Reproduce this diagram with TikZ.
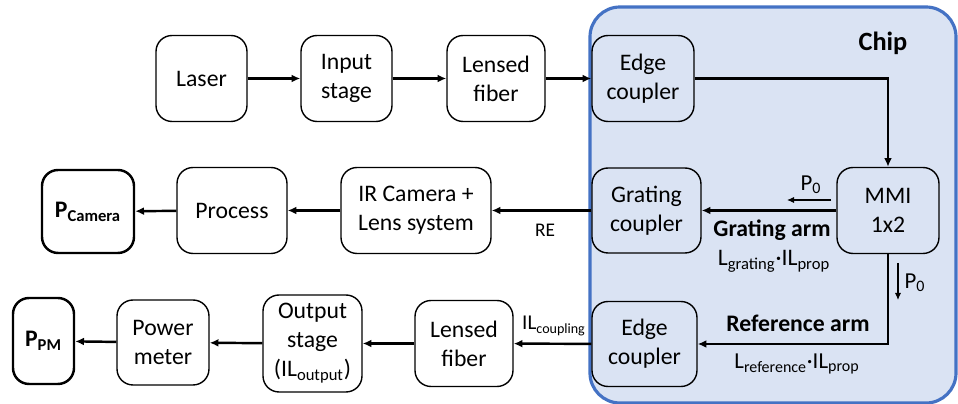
\documentclass[tikz,border=0pt]{standalone}
\usepackage{fontspec}
\setmainfont{Carlito}
\usepackage{xcolor}
\usetikzlibrary{arrows.meta,positioning}
\definecolor{chipfill}{HTML}{DAE3F3}
\definecolor{chipedge}{HTML}{4472C4}

\begin{document}
\begin{tikzpicture}[x=0.02cm, y=-0.02cm, >={Latex[length=5pt,width=4.5pt]},
    blk/.style={rectangle, draw, line width=0.8pt, rounded corners=0.32cm, align=center, inner sep=0pt, minimum height=1.72cm, font=\fontsize{13.5}{16.5}\selectfont},
    outblk/.style={blk, line width=1.4pt, font=\fontsize{13.5}{16.5}\selectfont\bfseries},
    link/.style={->, line width=1.4pt},
    small/.style={->, line width=0.6pt, >={Latex[length=4pt,width=3.5pt]}},
    lbl/.style={inner sep=1pt, font=\fontsize{11}{13}\selectfont}]

    \useasboundingbox (0,0) rectangle (958,404);

    % Chip area
    \draw[chipedge, fill=chipfill, line width=1.8pt, rounded corners=0.6cm] (590,7) rectangle (956,403);
    \node[font=\fontsize{15}{18}\selectfont\bfseries] (chiplbl) at (883,43) {Chip};

    % Input path
    \node[blk, minimum width=1.82cm] (laser) at (201.5,78.5) {Laser};
    \node[blk, minimum width=1.82cm] (input) at (346.5,78.5) {Input\\stage};
    \node[blk, minimum width=1.96cm] (lfin) at (496,78.5) {Lensed\\fiber};
    \node[blk, minimum width=2.04cm] (ecin) at (643,78.5) {Edge\\coupler};

    % Splitter
    \node[blk, minimum width=2.04cm] (mmi) at (888,210.5) {MMI\\1x2};

    % Grating arm
    \node[blk, minimum width=2.18cm, minimum height=1.7cm] (gc) at (646.5,210.5) {Grating\\coupler};
    \node[blk, minimum width=3.0cm] (ircam) at (416,210.5) {IR Camera +\\Lens system};
    \node[blk, minimum width=2.2cm] (proc) at (232,210.5) {Process};
    \node[outblk, minimum width=1.84cm, minimum height=1.66cm] (pcam) at (88,211.5) {P\textsubscript{Camera}};

    % Reference arm
    \node[blk, minimum width=2.1cm, minimum height=1.7cm] (ecout) at (644.5,344) {Edge\\coupler};
    \node[blk, minimum width=1.96cm] (lfout) at (464,343.5) {Lensed\\fiber};
    \node[blk, minimum width=1.98cm, minimum height=1.94cm] (outst) at (312.5,343.5) {Output\\stage\\(IL\textsubscript{output})};
    \node[blk, minimum width=1.84cm, minimum height=1.7cm] (pmeter) at (163,342.5) {Power\\meter};
    \node[outblk, minimum width=1.22cm] (ppm) at (43.5,341) {P\textsubscript{PM}};

    % Connections
    \draw[link] (laser) -- (input);
    \draw[link] (input) -- (lfin);
    \draw[link] (lfin) -- (ecin);
    \draw[link] (ecin) -| (mmi);
    \draw[link] (mmi) -- (gc);
    \draw[link] (gc) -- (ircam);
    \draw[link] (ircam) -- (proc);
    \draw[link] (proc) -- (pcam);
    \draw[link] (mmi.south) |- (ecout);
    \draw[link] (ecout) -- (lfout);
    \draw[link] (lfout) -- (outst);
    \draw[link] (outst) -- (pmeter);
    \draw[link] (pmeter) -- (ppm);

    % Power markers
    \coordinate (pga) at (831,200);
    \coordinate (pgb) at (787,200);
    \draw[small] (pga) -- (pgb);
    \node[lbl, font=\fontsize{13}{15}\selectfont] (p0g) at (811,185) {P\textsubscript{0}};
    \coordinate (pra) at (898,263);
    \coordinate (prb) at (898,300);
    \draw[small] (pra) -- (prb);
    \node[lbl, font=\fontsize{13}{15}\selectfont] (p0r) at (915,283) {P\textsubscript{0}};

    % Arm labels
    \node[font=\fontsize{13.5}{16}\selectfont\bfseries] (garm) at (772,230) {Grating arm};
    \node[lbl, font=\fontsize{13.5}{15}\selectfont] (lgrat) at (774,261) {L\textsubscript{grating}·IL\textsubscript{prop}};
    \node[font=\fontsize{13.5}{16}\selectfont\bfseries] (rarm) at (798,323) {Reference arm};
    \node[lbl, font=\fontsize{13}{15}\selectfont] (lref) at (797,364) {L\textsubscript{reference}·IL\textsubscript{prop}};

    % Loss labels
    \node[lbl] (re) at (545,230) {RE};
    \node[lbl, font=\fontsize{12}{14}\selectfont] (ilc) at (554,326) {IL\textsubscript{coupling}};
\end{tikzpicture}
\end{document}
